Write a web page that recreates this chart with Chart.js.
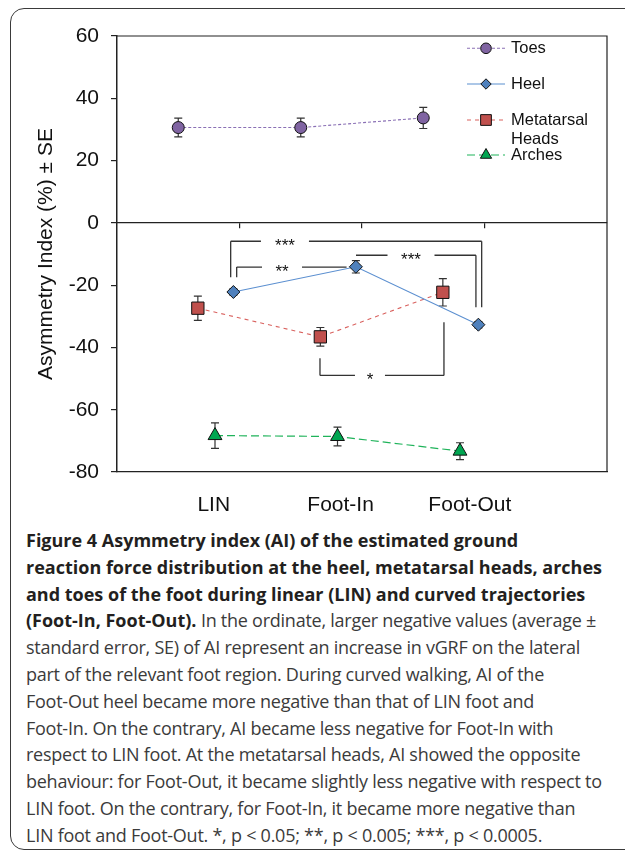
<!DOCTYPE html>
<html>
<head>
<meta charset="utf-8">
<script src="https://cdn.jsdelivr.net/npm/chart.js@4/dist/chart.umd.min.js"></script>
<style>
  html, body { margin: 0; padding: 0; background: #fff; width: 625px; height: 852px; overflow: hidden; }
  #frame { position: absolute; left: 10px; top: 8px; width: 680px; height: 840px; border: 1.5px solid #3a3a3a; border-radius: 14px; }
  #wrap { position: absolute; left: 0; top: 0; width: 625px; height: 520px; }
  #caption { position: absolute; left: 26px; top: 527px; font-family: "Open Sans", sans-serif; font-size: 18px; line-height: 26.8px; color: #3b3b3b; white-space: pre; letter-spacing: -0.25px; }
  #caption b { color: #231f20; font-weight: 700; letter-spacing: 0; }
  #caption .l { display: block; }
</style>
</head>
<body>
<div id="frame"></div>
<div id="wrap"><canvas id="c" width="625" height="520"></canvas></div>
<div id="caption"><span class="l"><b>Figure 4 Asymmetry index (AI) of the estimated ground</b></span><span class="l"><b>reaction force distribution at the heel, metatarsal heads, arches</b></span><span class="l"><b>and toes of the foot during linear (LIN) and curved trajectories</b></span><span class="l"><b>(Foot-In, Foot-Out).</b> In the ordinate, larger negative values (average ±</span><span class="l">standard error, SE) of AI represent an increase in vGRF on the lateral</span><span class="l">part of the relevant foot region. During curved walking, AI of the</span><span class="l">Foot-Out heel became more negative than that of LIN foot and</span><span class="l">Foot-In. On the contrary, AI became less negative for Foot-In with</span><span class="l">respect to LIN foot. At the metatarsal heads, AI showed the opposite</span><span class="l">behaviour: for Foot-Out, it became slightly less negative with respect to</span><span class="l">LIN foot. On the contrary, for Foot-In, it became more negative than</span><span class="l">LIN foot and Foot-Out. *, p &lt; 0.05; **, p &lt; 0.005; ***, p &lt; 0.0005.</span></div>
<script>
// ---------- data ----------
const categories = ['LIN', 'Foot-In', 'Foot-Out'];
const toes       = [30.6, 30.6, 33.7];
const toesSE     = [3.0, 3.0, 3.4];
const heel       = [-22.2, -14.1, -32.7];
const heelSE     = [1.0, 2.0, 1.0];
const metatarsal = [-27.4, -36.6, -22.3];
const metatarsalSE = [3.9, 3.0, 4.4];
const arches     = [-68.3, -68.6, -73.3];
const archesSE   = [4.1, 3.0, 2.7];
const yTicks     = [-80, -60, -40, -20, 0, 20, 40, 60];
const seriesNames = ['Toes', 'Heel', 'Metatarsal\nHeads', 'Arches'];

// significance brackets (data coords), asterisk labels
const brackets = [
  { label: '***', x1: 0.928, x2: 2.977, y: -5.9,  y1: -17.5, y2: -27.1, lx: 1.371, gap: 24 },
  { label: '**',  x1: 0.977, x2: 1.874, y: -14.2, y1: -17.5, y2: null,  lx: 1.347, gap: 20 },
  { label: '***', x1: 1.951, x2: 2.930, y: -10.4, y1: null,  y2: -27.1, lx: 2.400, gap: 23.5 },
  { label: '*',   x1: 1.657, x2: 2.669, y: -49.0, y1: -43.5, y2: -31.9, lx: 2.065, gap: 15 }
];

// ---------- layout / style ----------
const seriesOffset = [0.50, 0.95, 0.66, 0.80];   // position of each series inside a category slot
const labelOffset  = [0.79, 0.825, 0.88];        // category label position inside slot
const FONT = '"Liberation Sans", Arial, sans-serif';

function pts(vals, off) { return vals.map((v, i) => ({ x: i + off, y: v })); }

const seriesVals = [toes, heel, metatarsal, arches];
const seriesSE = [toesSE, heelSE, metatarsalSE, archesSE];
const styles = [
  { color: '#8064A2', line: '#8a70b5', dash: [3, 2],  shape: 'circle',   r: 6,   lr: 5.3, lw: 1.1 },
  { color: '#4F81BD', line: '#5b8fd0', dash: [],      shape: 'rectRot',  r: 6.5, lr: 5.2, lw: 1.1 },
  { color: '#C0504D', line: '#d9625f', dash: [4, 4],  shape: 'rect',     r: 8.7, lr: 7.6, lw: 1.1 },
  { color: '#00A651', line: '#1fb35a', dash: [8, 4],  shape: 'triangle', r: 8,   lr: 6.5, lw: 1.2 }
];
const legendRows = [48.3, 84, 120, 155];

const datasets = seriesVals.map((vals, k) => ({
  label: seriesNames[k],
  data: pts(vals, seriesOffset[k]),
  showLine: true,
  borderColor: styles[k].line,
  borderWidth: styles[k].lw,
  borderDash: styles[k].dash,
  pointStyle: styles[k].shape,
  pointRadius: styles[k].r,
  pointBackgroundColor: styles[k].color,
  pointBorderColor: '#111',
  pointBorderWidth: 1,
  tension: 0
}));

const errorBars = {
  id: 'errorBars',
  beforeDatasetsDraw(chart) {
    const { ctx, scales: { x, y } } = chart;
    ctx.save();
    ctx.strokeStyle = '#333';
    ctx.lineWidth = 1.2;
    ctx.setLineDash([]);
    seriesVals.forEach((vals, k) => {
      vals.forEach((v, i) => {
        const px = x.getPixelForValue(i + seriesOffset[k]);
        const top = y.getPixelForValue(v + seriesSE[k][i]);
        const bot = y.getPixelForValue(v - seriesSE[k][i]);
        ctx.beginPath();
        ctx.moveTo(px, top); ctx.lineTo(px, bot);
        ctx.moveTo(px - 4, top); ctx.lineTo(px + 4, top);
        ctx.moveTo(px - 4, bot); ctx.lineTo(px + 4, bot);
        ctx.stroke();
      });
    });
    ctx.restore();
  }
};

const frame = {
  id: 'frame',
  afterDraw(chart) {
    const { ctx, chartArea: a } = chart;
    ctx.save();
    ctx.strokeStyle = '#222';
    ctx.lineWidth = 1.2;
    ctx.beginPath();
    ctx.moveTo(a.left, a.top); ctx.lineTo(a.right, a.top); ctx.lineTo(a.right, a.bottom);
    ctx.stroke();
    ctx.restore();
  }
};

const bracketPlugin = {
  id: 'brackets',
  afterDatasetsDraw(chart) {
    const { ctx, scales: { x, y } } = chart;
    ctx.save();
    ctx.strokeStyle = '#333';
    ctx.lineWidth = 1.3;
    ctx.fillStyle = '#111';
    ctx.font = '17px ' + FONT;
    ctx.textAlign = 'center';
    ctx.textBaseline = 'alphabetic';
    brackets.forEach(b => {
      const x1 = x.getPixelForValue(b.x1), x2 = x.getPixelForValue(b.x2);
      const py = y.getPixelForValue(b.y), lx = x.getPixelForValue(b.lx);
      ctx.beginPath();
      ctx.moveTo(x1, py); ctx.lineTo(lx - b.gap, py);
      ctx.moveTo(lx + b.gap, py); ctx.lineTo(x2, py);
      if (b.y1 !== null) { ctx.moveTo(x1, py); ctx.lineTo(x1, y.getPixelForValue(b.y1)); }
      if (b.y2 !== null) { ctx.moveTo(x2, py); ctx.lineTo(x2, y.getPixelForValue(b.y2)); }
      ctx.stroke();
      ctx.fillText(b.label, lx, py + 10);
    });
    ctx.restore();
  }
};

const legendPlugin = {
  id: 'customLegend',
  afterDraw(chart) {
    const { ctx } = chart;
    ctx.save();
    datasets.forEach((ds, k) => {
      const yy = legendRows[k];
      ctx.strokeStyle = ds.borderColor;
      ctx.lineWidth = ds.borderWidth;
      ctx.setLineDash(ds.borderDash);
      ctx.beginPath();
      ctx.moveTo(467, yy); ctx.lineTo(505, yy);
      ctx.stroke();
      ctx.setLineDash([]);
      ctx.fillStyle = ds.pointBackgroundColor;
      ctx.strokeStyle = '#111';
      ctx.lineWidth = 1;
      Chart.helpers.drawPoint(ctx, { pointStyle: ds.pointStyle, radius: styles[k].lr, rotation: 0, borderWidth: 1 }, 486, yy);
      ctx.fillStyle = '#111';
      ctx.font = '16.5px ' + FONT;
      ctx.textAlign = 'left';
      ctx.textBaseline = 'middle';
      ds.label.split('\n').forEach((t, j) => ctx.fillText(t, 511, yy + j * 19.3));
    });
    ctx.restore();
  }
};

new Chart(document.getElementById('c'), {
  type: 'scatter',
  data: { datasets },
  plugins: [errorBars, bracketPlugin, frame, legendPlugin],
  options: {
    responsive: false,
    animation: false,
    layout: { padding: { top: 36, right: 18, left: 0, bottom: 0 } },
    plugins: { legend: { display: false }, tooltip: { enabled: false } },
    scales: {
      x: {
        type: 'linear', position: 'bottom', min: 0, max: 4,
        afterBuildTicks: s => { s.ticks = categories.map((c, i) => ({ value: i + labelOffset[i] })); },
        afterFit: s => { s.height = 48; },
        grid: { display: false, drawTicks: false },
        border: { display: true, color: '#222', width: 1.3 },
        ticks: { autoSkip: false, maxRotation: 0, padding: 21, color: '#111',
                 font: { family: FONT, size: 21 },
                 callback: (v, i) => categories[i] }
      },
      xz: {
        type: 'linear', position: { y: 0 }, min: 0, max: 4,
        afterBuildTicks: s => { s.ticks = [1, 2, 3].map(v => ({ value: v })); },
        grid: { display: true, drawOnChartArea: false, drawTicks: true, tickLength: 5, color: '#222', lineWidth: 1.2 },
        border: { display: true, color: '#222', width: 1.3 },
        ticks: { display: false }
      },
      y: {
        type: 'linear', position: 'left', min: -80, max: 60,
        afterBuildTicks: s => { s.ticks = yTicks.map(v => ({ value: v })); },
        afterFit: s => { s.width = 117; },
        grid: { display: true, drawOnChartArea: false, drawTicks: true, tickLength: 6, color: '#222', lineWidth: 1.2 },
        border: { display: true, color: '#222', width: 1.5 },
        ticks: { padding: 12, color: '#111', font: { family: FONT, size: 21 } },
        title: { display: true, text: 'Asymmetry Index (%) ± SE', color: '#111',
                 font: { family: FONT, size: 21 }, padding: { top: 34, bottom: 0 } }
      }
    }
  }
});
</script>
</body>
</html>
